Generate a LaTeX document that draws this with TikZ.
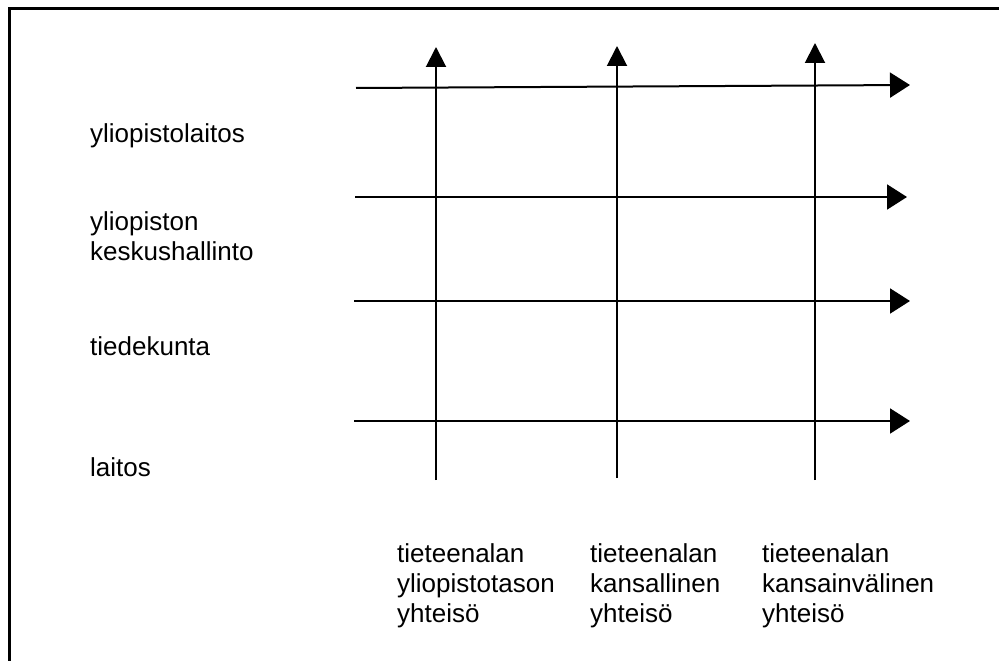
\documentclass[tikz,border=0pt]{standalone}
\usepackage{fontspec}
\setmainfont{Liberation Sans}
\usetikzlibrary{arrows.meta}
\begin{document}
\begin{tikzpicture}[x=1pt,y=-1pt,
  frameline/.style={line width=3pt},
  harrow/.style={line width=2pt,-{Triangle[length=20pt,width=25pt]}},
  varrow/.style={line width=2pt,-{Triangle[length=20pt,width=20pt]}},
  lbl/.style={anchor=base west,inner sep=0pt,align=left,font=\fontsize{26}{30}\selectfont}]
\useasboundingbox (0,0) rectangle (999,661);
% frame (only top and left edges are visible)
\coordinate (fbl) at (9,665);
\coordinate (ftl) at (9,9);
\coordinate (ftr) at (1003,9);
\draw[frameline] (fbl) -- (ftl) -- (ftr);
% horizontal arrows
\coordinate (h1s) at (356,88);  \coordinate (h1e) at (910,85);
\coordinate (h2s) at (355,197); \coordinate (h2e) at (907,197);
\coordinate (h3s) at (354,301); \coordinate (h3e) at (910,301);
\coordinate (h4s) at (354,421); \coordinate (h4e) at (910,421);
\draw[harrow] (h1s) -- (h1e);
\draw[harrow] (h2s) -- (h2e);
\draw[harrow] (h3s) -- (h3e);
\draw[harrow] (h4s) -- (h4e);
% vertical arrows
\coordinate (v1s) at (436,480); \coordinate (v1e) at (436,47);
\coordinate (v2s) at (617,478); \coordinate (v2e) at (617,46);
\coordinate (v3s) at (815,480); \coordinate (v3e) at (815,43);
\draw[varrow] (v1s) -- (v1e);
\draw[varrow] (v2s) -- (v2e);
\draw[varrow] (v3s) -- (v3e);
% left labels (base anchor = baseline of last line)
\node[lbl] (l1) at (90,142) {yliopistolaitos};
\node[lbl] (l2) at (90,260) {yliopiston\\keskushallinto};
\node[lbl] (l3) at (90,355) {tiedekunta};
\node[lbl] (l4) at (90,476) {laitos};
% bottom labels
\node[lbl] (b1) at (397,622) {tieteenalan\\yliopistotason\\yhteisö};
\node[lbl] (b2) at (590,622) {tieteenalan\\kansallinen\\yhteisö};
\node[lbl] (b3) at (762,622) {tieteenalan\\kansainvälinen\\yhteisö};
\end{tikzpicture}
\end{document}
